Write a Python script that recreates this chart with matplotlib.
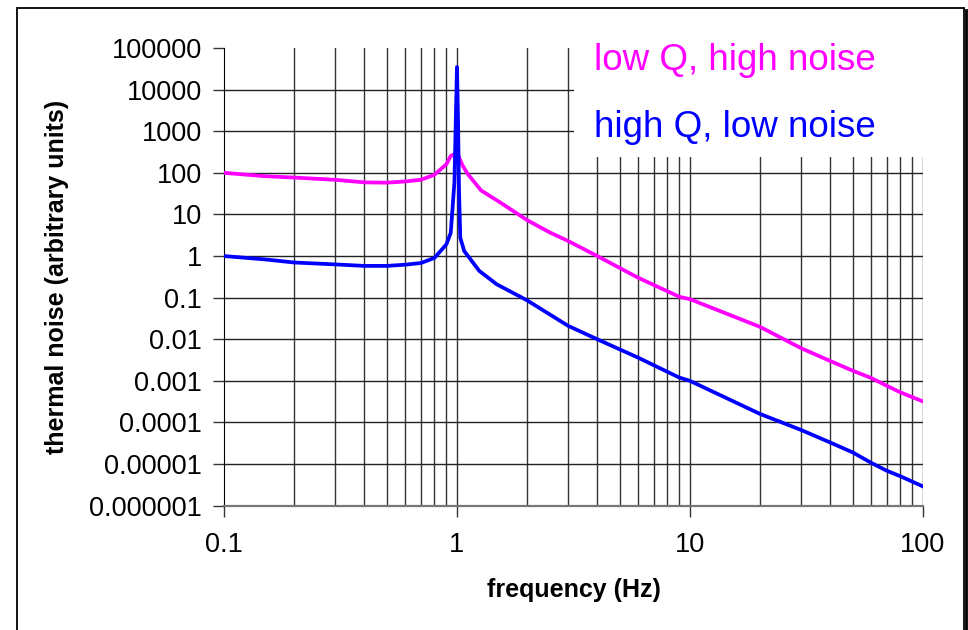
import matplotlib.pyplot as plt
from matplotlib.patches import Rectangle
from matplotlib.lines import Line2D

plt.rcParams["font.family"] = ["Liberation Sans", "DejaVu Sans"]

# low Q, high noise (magenta)
freq_lowq = [0.1, 0.15, 0.2, 0.3, 0.4, 0.5, 0.6, 0.7, 0.8, 0.9, 0.94, 1.0,
             1.057, 1.11, 1.268, 1.52, 2, 2.5, 3, 4, 6, 9, 10, 20, 30,
             40, 50, 60, 70, 80, 100]
noise_lowq = [100, 83, 77, 68, 59, 58, 62, 68, 90, 160, 255, 300,
              150, 95, 37.8, 20, 7.3, 3.7, 2.3, 1.0, 0.30, 0.105, 0.092,
              0.0198, 0.0061, 0.0030, 0.00175, 0.00117, 7.6e-4, 5.3e-4, 3.2e-4]

# high Q, low noise (blue)
freq_highq = [0.1, 0.15, 0.2, 0.3, 0.4, 0.5, 0.6, 0.7, 0.8, 0.9, 0.94, 0.955,
              0.975, 0.99, 1.0, 1.01, 1.02, 1.033, 1.074, 1.246, 1.48, 2, 3,
              4, 6, 9, 10, 20, 30, 40, 50, 60, 70, 80, 100]
noise_highq = [1.0, 0.83, 0.70, 0.63, 0.58, 0.58, 0.62, 0.68, 0.9, 1.9, 3.6, 12,
               60, 3000, 35000, 2000, 40, 2.75, 1.32, 0.44, 0.21, 0.086, 0.021,
               0.01, 0.0036, 0.0012, 0.001, 1.6e-4, 6.6e-5, 3.3e-5, 1.9e-5,
               1.07e-5, 6.9e-6, 5.1e-6, 2.9e-6]

x_ticks = [0.1, 1, 10, 100]
x_labels = ["0.1", "1", "10", "100"]
y_ticks = [1e-6, 1e-5, 1e-4, 1e-3, 1e-2, 1e-1, 1, 10, 100, 1e3, 1e4, 1e5]
y_labels = ["0.000001", "0.00001", "0.0001", "0.001", "0.01", "0.1",
            "1", "10", "100", "1000", "10000", "100000"]
x_grid = [m * d for d in (0.1, 1, 10) for m in range(2, 11)]

fig = plt.figure(figsize=(9.68, 6.30), dpi=100)
ax = fig.add_axes([0.2314, 0.1973, 0.7221, 0.7265])
ax.set_xscale("log")
ax.set_yscale("log")
ax.set_xlim(0.1, 100)
ax.set_ylim(1e-6, 1e5)

# grid drawn by hand so the top edge stays open
for xv in x_grid:
    ax.axvline(xv, color="#333333", lw=1.0, zorder=1)
for yv in y_ticks[1:-1]:
    ax.axhline(yv, color="#222222", lw=1.0, zorder=1)

# white box behind the series labels hides part of the grid
ax.add_patch(Rectangle((3.18, 243), 110 - 3.18, 1e5 - 243, facecolor="white",
                       edgecolor="none", zorder=2, clip_on=False))

ax.plot(freq_lowq, noise_lowq, color="#FF00FF", lw=2.7, zorder=3)
ax.plot(freq_highq, noise_highq, color="#0000FF", lw=2.7, zorder=3)

ax.text(3.87, 29300, "low Q, high noise", color="#FF00FF", fontsize=26.5,
        va="baseline", zorder=4)
ax.text(3.87, 731, "high Q, low noise", color="#0000FF", fontsize=26.5,
        va="baseline", zorder=4)

ax.set_xticks(x_ticks)
ax.set_xticklabels(x_labels)
ax.set_yticks(y_ticks)
ax.set_yticklabels(y_labels)
ax.minorticks_off()
ax.tick_params(axis="both", labelsize=19.5, length=8, width=1, color="#333333")
ax.tick_params(axis="x", pad=11)
ax.tick_params(axis="y", pad=8)

ax.spines["top"].set_visible(False)
ax.spines["right"].set_visible(False)
ax.spines["left"].set_color("black")
ax.spines["bottom"].set_color("#777777")
ax.spines["bottom"].set_linewidth(1.6)

ax.set_ylabel("thermal noise (arbitrary units)", fontsize=18, fontweight="bold",
              labelpad=14)
fig.text(0.5925, 1 - 590 / 630, "frequency (Hz)", fontsize=18,
         fontweight="bold", ha="center", va="center")

# outer frame
fig.patches.append(Rectangle((17 / 968, -0.05), (964 - 17) / 968, 1.05 - 8 / 630,
                             transform=fig.transFigure, fill=False,
                             edgecolor="black", lw=1.3))
fig.lines.append(Line2D([966 / 968, 966 / 968], [1 - 10 / 630, 0], color="black",
                        lw=2, transform=fig.transFigure))

fig.savefig("out.png", dpi=100)
